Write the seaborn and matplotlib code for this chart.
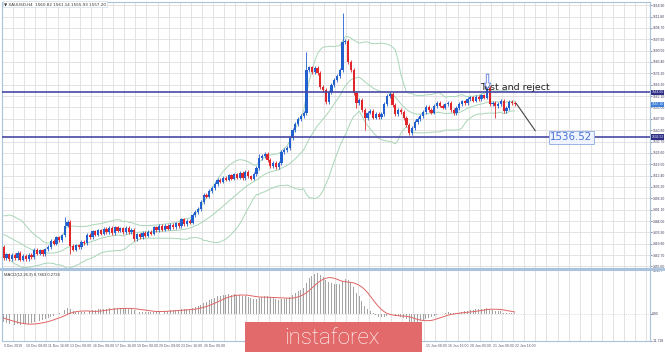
import numpy as np
import pandas as pd
import matplotlib
matplotlib.use("Agg")
import matplotlib.pyplot as plt
from matplotlib.patches import FancyArrow, Rectangle
from matplotlib.lines import Line2D
import seaborn as sns

# XAUUSD H4 closes, 9 Dec 2019 - 22 Jan 2020
prior_close = [1479.5, 1481.0, 1478.6, 1480.2, 1482.4, 1480.8, 1479.1, 1481.6, 1483.0, 1480.5,
               1478.2, 1476.9, 1474.5, 1472.8, 1474.1, 1471.3, 1469.8, 1470.6, 1468.9, 1467.8]
close = [1460.9, 1463.2, 1460.1, 1462.9, 1460.6, 1464.1, 1459.8, 1462.4, 1460.2, 1463.0,
         1461.4, 1466.2, 1463.5, 1465.8, 1463.1, 1466.4, 1467.8, 1471.5, 1469.9, 1473.8,
         1472.0, 1475.1, 1481.2, 1483.4, 1468.4, 1466.0, 1468.9, 1467.5, 1471.2, 1470.0,
         1475.3, 1473.8, 1477.6, 1475.4, 1478.3, 1476.0, 1479.1, 1477.2, 1479.8, 1476.4,
         1480.2, 1477.9, 1479.4, 1477.2, 1479.9, 1477.0, 1478.6, 1472.8, 1475.6, 1474.0,
         1476.8, 1474.9, 1477.4, 1476.1, 1480.2, 1478.3, 1481.0, 1478.6, 1480.9, 1479.1,
         1481.8, 1480.0, 1482.6, 1480.8, 1485.0, 1482.1, 1484.3, 1483.0, 1487.8, 1489.6,
         1491.5, 1495.9, 1500.3, 1499.2, 1502.8, 1504.6, 1507.1, 1509.6, 1508.6, 1511.2,
         1509.8, 1512.6, 1510.4, 1513.3, 1511.2, 1514.0, 1510.6, 1514.8, 1511.9, 1510.5,
         1513.4, 1517.1, 1523.4, 1524.6, 1526.0, 1522.1, 1518.2, 1520.4, 1517.6, 1520.3,
         1527.1, 1528.4, 1529.6, 1535.9, 1540.9, 1544.6, 1547.8, 1549.6, 1551.5, 1578.4,
         1580.2, 1577.1, 1579.6, 1576.5, 1567.8, 1565.9, 1558.4, 1564.6, 1569.0, 1572.1,
         1574.6, 1578.4, 1595.9, 1596.5, 1583.4, 1578.4, 1564.0, 1557.8, 1559.6, 1553.4,
         1548.4, 1551.6, 1552.9, 1548.6, 1551.2, 1549.0, 1550.9, 1557.1, 1562.1, 1563.4,
         1556.5, 1550.9, 1553.4, 1552.1, 1548.4, 1544.0, 1539.0, 1542.1, 1545.9, 1547.8,
         1549.6, 1552.1, 1555.3, 1553.4, 1551.6, 1555.9, 1557.8, 1556.2, 1554.8, 1556.9,
         1558.0, 1553.4, 1551.5, 1554.6, 1557.1, 1558.9, 1557.6, 1560.3, 1561.4, 1559.2,
         1561.5, 1560.0, 1562.5, 1561.2, 1567.1, 1557.1, 1557.8, 1555.9, 1557.1, 1559.0,
         1552.8, 1554.6, 1558.4, 1557.8, 1557.1]
# bars with long shadows
wick_high = {22: 1486.5, 109: 1589.6, 122: 1614.0, 92: 1526.0, 174: 1569.5}
wick_low = {24: 1463.4, 127: 1554.6, 130: 1540.9, 146: 1537.8, 177: 1548.4}

date_labels = ["9 Dec 2019", "10 Dec 08:00", "11 Dec 16:00", "13 Dec 00:00", "16 Dec 08:00",
               "17 Dec 16:00", "19 Dec 00:00", "20 Dec 08:00", "23 Dec 16:00", "26 Dec 00:00",
               "27 Dec 08:00", "30 Dec 16:00", "2 Jan 00:00", "3 Jan 08:00", "6 Jan 16:00",
               "8 Jan 00:00", "9 Jan 08:00", "10 Jan 16:00", "14 Jan 00:00", "15 Jan 08:00",
               "16 Jan 16:00", "20 Jan 00:00", "21 Jan 08:00", "22 Jan 16:00"]
price_ticks = [1618.90, 1611.80, 1604.70, 1597.60, 1590.50, 1583.40, 1576.30, 1569.20,
               1562.10, 1555.00, 1547.90, 1540.80, 1533.70, 1526.60, 1519.50, 1512.40,
               1505.30, 1498.20, 1491.10, 1484.00, 1476.90, 1469.80, 1462.70, 1455.60]
macd_ticks = [18.677, 0.0, -11.718]
macd_tick_labels = ["18.677", "0.00", "-11.718"]

level_top = 1564.60
level_bottom = 1536.52
last_price = 1557.10
note_text = "Test and reject"
header = "\u25bc XAUUSD,H4  1560.82 1561.14 1555.93 1557.20"
macd_header = "MACD(12,26,9) 0.7463 0.2734"

# ---- derived series ----
n = len(close)
idx = np.arange(n)
opens = np.array([prior_close[-1]] + close[:-1])
closes = np.array(close)
highs = np.maximum(opens, closes) + 1.0
lows = np.minimum(opens, closes) - 1.0
for k, v in wick_high.items():
    highs[k] = v
for k, v in wick_low.items():
    lows[k] = v

full = pd.Series(prior_close + close)
mid = full.rolling(20).mean()
sd = full.rolling(20).std(ddof=0)
bb = pd.DataFrame({"bar": idx,
                   "mid": mid.values[len(prior_close):],
                   "upper": (mid + 2 * sd).values[len(prior_close):],
                   "lower": (mid - 2 * sd).values[len(prior_close):]})
macd = full.ewm(span=12, adjust=False).mean() - full.ewm(span=26, adjust=False).mean()
signal = macd.rolling(9).mean()
md = pd.DataFrame({"bar": idx, "macd": macd.values[len(prior_close):],
                   "signal": signal.values[len(prior_close):]})

sns.set_style("white")
plt.rcParams["font.family"] = ["Liberation Sans", "DejaVu Sans"]

W, H = 665, 352
fig = plt.figure(figsize=(W / 100, H / 100), dpi=100)
ax = fig.add_axes([2 / W, 1 - 268 / H, 648 / W, 266 / H])
axm = fig.add_axes([2 / W, 1 - 341 / H, 648 / W, 71 / H])

frame_c = "#a9c3dc"
grid_c = "#dedede"
xmax = 232.7
for a in (ax, axm):
    a.set_xlim(-0.36, xmax)
    for s in a.spines.values():
        s.set_color(frame_c)
        s.set_linewidth(0.8)
    a.set_xticks(np.arange(0, xmax, 4) - 0.6, minor=True)
    a.grid(which="minor", axis="x", color=grid_c, lw=0.6)
    a.yaxis.tick_right()
    a.tick_params(axis="y", labelsize=2.45, colors="#3c3c5c", length=1.2, pad=0.5, width=0.4)

ax.set_ylim(1454.64, 1620.89)
ax.set_yticks(price_ticks)
ax.set_yticklabels([f"{t:.2f}" for t in price_ticks])
ax.grid(which="major", axis="y", color=grid_c, lw=0.6)
ax.set_xticks([])

# candles
up = closes >= opens
colors = np.where(up, "#2260d0", "#e0262b")
ax.vlines(idx, lows, highs, colors=colors, lw=0.6, zorder=3)
ax.bar(idx, np.maximum(np.abs(closes - opens), 0.35), bottom=np.minimum(opens, closes),
       width=0.8, color=colors, linewidth=0, zorder=3)

# bollinger bands
for col in ("upper", "mid", "lower"):
    sns.lineplot(data=bb, x="bar", y=col, ax=ax, color="#a9d6b6", lw=0.7, zorder=2)
ax.set_xlabel("")
ax.set_ylabel("")

# levels
ax.axhline(level_top, color="#4848a4", lw=1.2, zorder=4)
ax.axhline(level_bottom, color="#4848a4", lw=1.2, zorder=4)
tr = ax.get_yaxis_transform()
for val, fc in ((level_top, "#2e2e86"), (last_price, "#3f7fd8"), (level_bottom, "#2e2e86")):
    ax.text(1.002, val, f"{val:.2f}", transform=tr, fontsize=2.45, color="white", va="center",
            ha="left", zorder=6, clip_on=False,
            bbox=dict(boxstyle="square,pad=0.15", fc=fc, ec="none"))

# annotations
ax.text(184.0, 1567.3, note_text, fontsize=6.8, color="#222222", ha="center", va="center",
        family=["DejaVu Sans"], zorder=5)
ax.add_patch(FancyArrow(174.2, 1575.8, 0, -9.2, width=0.9, head_width=2.3, head_length=3.6,
                        length_includes_head=True, fc="white", ec="#5a78dc", lw=0.6, zorder=6))
ax.add_line(Line2D([184.5, 191.4], [1557.6, 1540.4], color="#444444", lw=0.8, zorder=5))
ax.text(204.3, 1536.3, f"{level_bottom:.2f}", fontsize=7.4, color="#4a72d4", ha="center",
        va="center", family=["DejaVu Sans"], zorder=6,
        bbox=dict(boxstyle="square,pad=0.15", fc="#eef3ff", ec="#8fa8e4", lw=0.6))

# MACD panel
axm.set_ylim(-11.718, 18.677)
axm.bar(idx, md["macd"], width=0.35, color="#a4a4a4", linewidth=0, zorder=2)
sns.lineplot(data=md, x="bar", y="signal", ax=axm, color="#e06464", lw=0.7, zorder=3)
axm.axhline(0, color="#c4c4c4", lw=0.5, ls=":", zorder=1)
axm.set_xlabel("")
axm.set_ylabel("")
axm.set_yticks(macd_ticks)
axm.set_yticklabels(macd_tick_labels)
label_pos = np.arange(0, n, 8)
axm.set_xticks(label_pos)
axm.set_xticklabels(date_labels, ha="left")
axm.tick_params(axis="x", labelsize=2.5, colors="#5a5a70", length=1.5, pad=1, width=0.4)

# logo panel covers the middle of the time scale
logo_x0, logo_x1 = 245 / W, 422 / W
fig.canvas.draw()
for lab in axm.get_xticklabels():
    bb_lab = lab.get_window_extent()
    if bb_lab.x1 / W > logo_x0 and bb_lab.x0 / W < logo_x1:
        lab.set_visible(False)

# separator, headers, logo
fig.add_artist(Line2D([0, 1], [1 - 269 / H, 1 - 269 / H], transform=fig.transFigure,
                      color=frame_c, lw=2.0))
fig.text(4 / W, 1 - 2 / H, header, fontsize=3.0, color="#333333", va="top", ha="left",
         family=["DejaVu Sans"],
         bbox=dict(boxstyle="square,pad=0.2", fc="white", ec="#c8d4e0", lw=0.4))
fig.text(4 / W, 1 - 273 / H, macd_header, fontsize=3.0, color="#333333", va="top", ha="left")
fig.add_artist(Rectangle((logo_x0, 0), logo_x1 - logo_x0, 30 / H, transform=fig.transFigure,
                         fc="#e36a6a", ec="none", zorder=10))
fig.text(332 / W, 14 / H, "instaforex", fontsize=16, color="white", ha="center", va="center",
         family=["Roboto", "DejaVu Sans"], weight="light", zorder=11)

fig.savefig("out.png", dpi=100, facecolor="white")
